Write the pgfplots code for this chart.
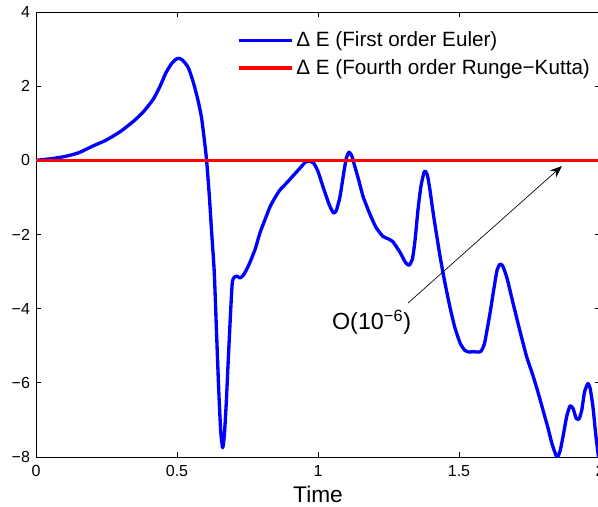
\documentclass[border=0pt]{standalone}
\usepackage{fontspec}
\setmainfont{Liberation Sans}
\usepackage{pgfplots}
\pgfplotsset{compat=1.18}
\usetikzlibrary{arrows.meta}
\begin{document}
\begin{tikzpicture}
\begin{axis}[name=ax,
  scale only axis, width=423pt, height=333.75pt,
  xmin=0, xmax=2, ymin=-8, ymax=4,
  axis line style={black, line width=0.7pt},
  xtick={0,0.5,1,1.5,2}, xticklabels={0,0.5,1,1.5,2},
  ytick={-8,-6,-4,-2,0,2,4}, yticklabels={−8,−6,−4,−2,0,2,4},
  tick align=inside, major tick length=4pt,
  tick style={black, line width=0.6pt},
  tick label style={font=\fontsize{12}{14}\selectfont},
  xticklabel style={yshift=-3pt},
  yticklabel style={xshift=-1pt},
  xlabel={Time}, xlabel style={font=\fontsize{17}{20}\selectfont, yshift=0pt},
  legend style={draw=none, fill=none, at={(0.356,0.962)}, anchor=north west,
    inner sep=0pt, font=\fontsize{15.5}{18}\selectfont, row sep=4pt},
  legend cell align=left,
  legend image code/.code={\draw[#1] (0pt,0pt) -- (40pt,0pt);},
]
\addplot[blue, line width=2.5pt, line join=round, smooth, tension=0.35] coordinates {
(0,0) (0.05,0.04) (0.1,0.1) (0.15,0.2) (0.2,0.38) (0.25,0.55) (0.3,0.78) (0.345,1.05)
(0.38,1.3) (0.416,1.65) (0.44,2.0) (0.46,2.35) (0.48,2.6) (0.495,2.72) (0.507,2.75)
(0.52,2.7) (0.54,2.5) (0.558,2.1) (0.575,1.6) (0.587,1.15) (0.597,0.55) (0.605,0.0)
(0.615,-1.0) (0.623,-1.96) (0.632,-3.0) (0.64,-4.6) (0.648,-6.2) (0.655,-7.3)
(0.662,-7.75) (0.668,-7.4) (0.675,-6.5) (0.681,-5.5) (0.69,-4.1) (0.696,-3.3)
(0.703,-3.15) (0.712,-3.12) (0.723,-3.17) (0.735,-3.1) (0.753,-2.85) (0.777,-2.4)
(0.794,-1.96) (0.812,-1.6) (0.83,-1.25) (0.848,-1.0) (0.865,-0.8) (0.89,-0.6)
(0.91,-0.43) (0.935,-0.22) (0.955,-0.05) (0.97,-0.02) (0.985,-0.08) (1.0,-0.3)
(1.018,-0.72) (1.04,-1.2) (1.055,-1.42) (1.065,-1.35) (1.078,-0.98) (1.09,-0.4)
(1.1,0.05) (1.11,0.22) (1.12,0.12) (1.13,-0.15) (1.145,-0.55) (1.16,-0.98)
(1.184,-1.45) (1.205,-1.8) (1.23,-2.05) (1.25,-2.12) (1.266,-2.2) (1.29,-2.47)
(1.31,-2.75) (1.323,-2.83) (1.335,-2.65) (1.344,-2.16) (1.355,-1.3) (1.365,-0.7)
(1.375,-0.35) (1.38,-0.29) (1.388,-0.4) (1.397,-0.8) (1.41,-1.5) (1.433,-2.6)
(1.45,-3.3) (1.468,-3.96) (1.485,-4.5) (1.504,-4.93) (1.52,-5.12) (1.535,-5.17)
(1.55,-5.16) (1.564,-5.17) (1.578,-5.15) (1.59,-4.95) (1.6,-4.55) (1.61,-4.12)
(1.625,-3.4) (1.635,-2.96) (1.645,-2.8) (1.655,-2.85) (1.67,-3.17) (1.69,-3.8)
(1.716,-4.6) (1.74,-5.3) (1.76,-5.75) (1.78,-6.25) (1.798,-6.74) (1.815,-7.2)
(1.83,-7.65) (1.847,-8.0) (1.858,-7.85) (1.87,-7.4) (1.882,-6.9) (1.894,-6.62)
(1.905,-6.7) (1.915,-6.95) (1.925,-6.98) (1.935,-6.75) (1.945,-6.25) (1.957,-6.02)
(1.965,-6.15) (1.975,-6.65) (1.985,-7.4) (1.993,-7.9) (2.0,-8.3)
};
\addlegendentry{Δ E (First order Euler)}
\addplot[red, line width=2.5pt] coordinates {(0,0) (0.5,0) (1,0) (1.5,0) (2,0)};
\addlegendentry{Δ E (Fourth order Runge−Kutta)}
\draw[black, line width=0.5pt, -{Stealth[length=9pt,width=7pt]}] (axis cs:1.319,-3.85) -- (axis cs:1.865,-0.154);
\node[anchor=base west, inner sep=0pt, font=\fontsize{17.5}{20}\selectfont] at (axis cs:1.049,-4.574) {O(10\textsuperscript{−6})};
\end{axis}
\pgfresetboundingbox
\useasboundingbox ([xshift=-27pt, yshift=-36.75pt]ax.south west) rectangle ([xshift=-1.5pt, yshift=9pt]ax.north east);
\end{tikzpicture}
\end{document}
